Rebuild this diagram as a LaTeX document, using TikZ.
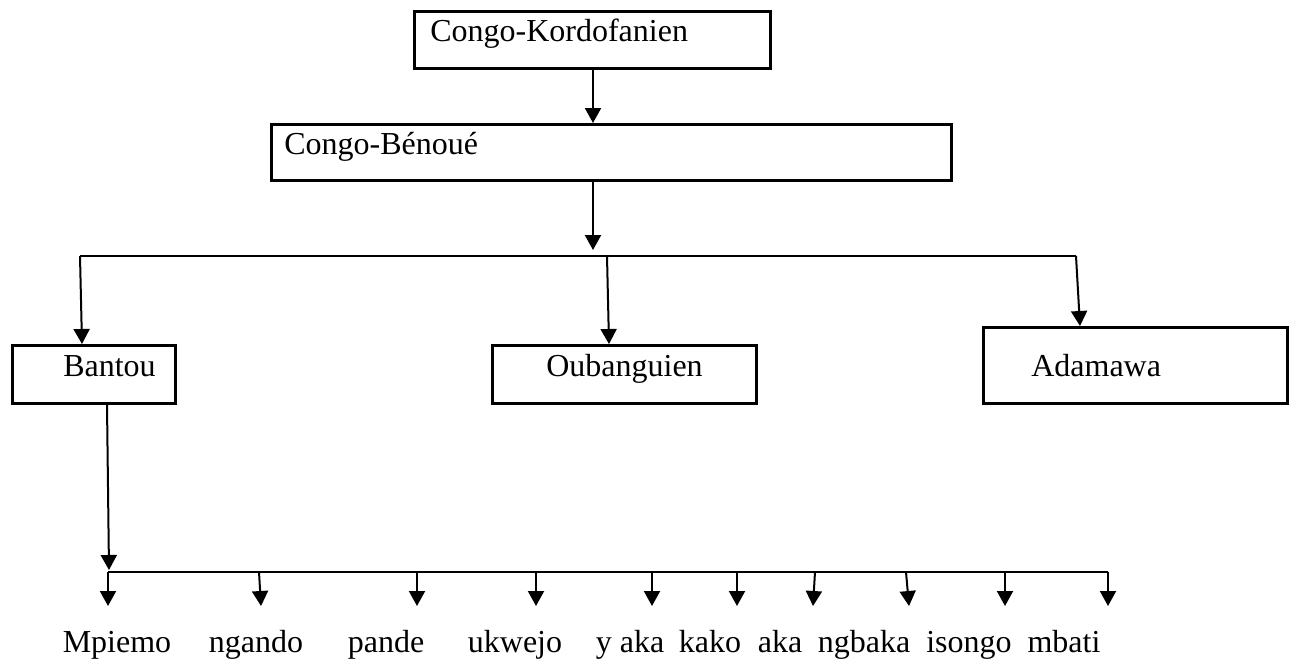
\documentclass[tikz,border=0pt]{standalone}
\usepackage{fontspec}
\setmainfont{Liberation Serif}
\usetikzlibrary{arrows.meta}
\begin{document}
\begin{tikzpicture}[x=1pt,y=-1pt,
  box/.style={draw, line width=2.6pt, inner sep=0pt, anchor=north west, align=left,
              font=\fontsize{32}{38}\selectfont},
  lab/.style={anchor=base, inner sep=0pt, font=\fontsize{32}{38}\selectfont},
  arr/.style={line width=2pt, -{Triangle[width=16pt,length=15pt]}},
  bar/.style={line width=2pt}]
\useasboundingbox (0,0) rectangle (1293,659);

% boxes
\node[box, text width=356pt, text height=30pt, text depth=27pt] (k) at (413,10) {\hspace*{16pt}Congo-Kordofanien};
\node[box, text width=680pt, text height=30pt, text depth=26pt] (b) at (270,123) {\hspace*{13pt}Congo-Bénoué};
\node[box, text width=163pt, text height=31pt, text depth=27pt] (ba) at (11,344) {\hspace*{51pt}Bantou};
\node[box, text width=264pt, text height=31pt, text depth=27pt] (ou) at (491,344) {\hspace*{54pt}Oubanguien};
\node[box, text width=304pt, text height=49pt, text depth=27pt] (ad) at (982,326) {\hspace*{48pt}Adamawa};

% upper connectors
\coordinate (t0) at (593,250);
\coordinate (jL) at (80,256);
\coordinate (jM) at (607,256);
\coordinate (jR) at (1076,256);
\draw[arr] (k.south -| t0) -- (b.north -| t0);
\draw[arr] (b.south -| t0) -- (t0);
\draw[bar] (jL) -- (jR);
\draw[arr] (jL) -- ([xshift=71pt]ba.north west);
\draw[arr] (jM) -- ([xshift=118pt]ou.north west);
\draw[arr] (jR) -- ([xshift=98pt]ad.north west);

% lower connectors
\coordinate (t1) at (109,570);
\coordinate (bL) at (108,572);
\coordinate (bR) at (1108,572);
\draw[arr] ([xshift=96pt]ba.south west) -- (t1);
\draw[bar] (bL) -- (bR);

\foreach \i/\sx/\ex in {1/108/108, 2/259/261, 3/417/417, 4/536/536, 5/652/652,
                        6/737/737, 7/815/813, 8/906/909, 9/1005/1005, 10/1108/1108}{
  \coordinate (s\i) at (\sx,572);
  \coordinate (e\i) at (\ex,606);
  \draw[arr] (s\i) -- (e\i);
}

% labels
\node[lab] (l1) at (117,652) {Mpiemo};
\node[lab] (l2) at (256,652) {ngando};
\node[lab] (l3) at (386,652) {pande};
\node[lab] (l4) at (515,652) {ukwejo};
\node[lab] (l5) at (630,652) {y aka};
\node[lab] (l6) at (710,652) {kako};
\node[lab] (l7) at (780,652) {aka};
\node[lab] (l8) at (864,652) {ngbaka};
\node[lab] (l9) at (969,652) {isongo};
\node[lab] (l10) at (1064,652) {mbati};
\end{tikzpicture}
\end{document}
